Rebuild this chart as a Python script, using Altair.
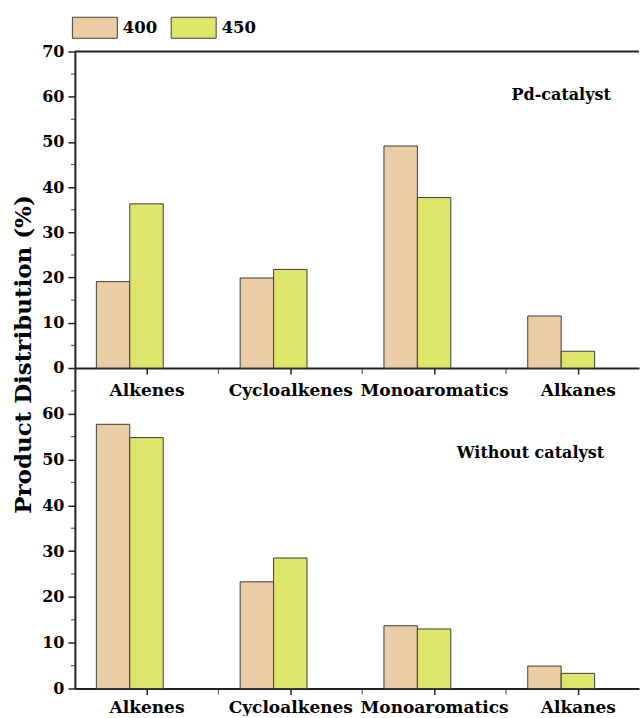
import altair as alt
import pandas as pd

# ---------------- data ----------------
categories = ["Alkenes", "Cycloalkenes", "Monoaromatics", "Alkanes"]
temps = ["400", "450"]
pd_400 = [19.1, 19.9, 49.1, 11.5]
pd_450 = [36.3, 21.8, 37.7, 3.7]
nocat_400 = [57.7, 23.3, 13.7, 4.9]
nocat_450 = [54.8, 28.5, 13.0, 3.3]

top_major = [0, 10, 20, 30, 40, 50, 60, 70]
bottom_major = [0, 10, 20, 30, 40, 50, 60]
minor_y = [5, 15, 25, 35, 45, 55, 65]
minor_x_cats = ["Cycloalkenes", "Monoaromatics", "Alkanes"]

panel_names = ["Pd-catalyst", "Without catalyst"]
panel_name_y = [60.3, 51.5]

colors = ["#EBCDA5", "#DDE66B"]
FONT = "DejaVu Serif"
DARK = "#222222"
W = 565


def long_df(v400, v450):
    rows = []
    for c, a, b in zip(categories, v400, v450):
        rows.append({"category": c, "temp": "400", "value": a})
        rows.append({"category": c, "temp": "450", "value": b})
    return pd.DataFrame(rows)


def panel(df, name, name_y, name_band, height, yvals, show_title, show_legend, xlabel_pad):
    xscale = alt.Scale(domain=categories, paddingInner=0.535, paddingOuter=0.229, align=0.326)
    yscale = alt.Scale(domain=[0, 70], nice=False, zero=True)

    yaxis_kw = dict(
        values=yvals, tickSize=7, tickWidth=1.5, tickColor=DARK,
        domainWidth=2, domainColor=DARK, labelPadding=4,
        labelFont=FONT, labelFontSize=16, labelFontWeight="bold", labelColor="black",
        grid=False,
    )
    if show_title:
        yaxis_kw.update(
            title="Product Distribution (%)", titleX=-51, titleY=303,
            titleAngle=270, titleAlign="center", titleBaseline="middle",
            titleFont=FONT, titleFontSize=23, titleFontWeight="bold", titleColor="black",
        )
    else:
        yaxis_kw.update(title=None)
    yaxis = alt.Axis(**yaxis_kw)
    xaxis = alt.Axis(title=None, labelAngle=0, tickOffset=16.75,
                     tickSize=6, tickWidth=1.5, tickColor=DARK,
                     domainWidth=2, domainColor=DARK, labelPadding=xlabel_pad,
                     labelFont=FONT, labelFontSize=17, labelFontWeight="bold",
                     labelColor="black", grid=False)

    if show_legend:
        legend = alt.Legend(
            orient="none", legendX=-3, legendY=-47, direction="horizontal", title=None,
            symbolType="M-1,-0.4667H1V0.4667H-1Z", symbolSize=2025,
            symbolStrokeColor="#3c3c3c", symbolStrokeWidth=1, symbolOpacity=1,
            labelFont=FONT, labelFontSize=16.5, labelFontWeight="bold", labelColor="black",
            labelOffset=5, columnPadding=11,
        )
    else:
        legend = None

    bars = alt.Chart(df).mark_bar(stroke="#3c3c3c", strokeWidth=1, opacity=1).encode(
        x=alt.X("category:N", scale=xscale, sort=categories, axis=xaxis),
        xOffset=alt.XOffset("temp:N", sort=temps,
                            scale=alt.Scale(paddingInner=0, paddingOuter=0)),
        y=alt.Y("value:Q", scale=yscale, axis=yaxis),
        color=alt.Color("temp:N", scale=alt.Scale(domain=temps, range=colors), legend=legend),
    )

    ymin = alt.Chart(pd.DataFrame({"value": minor_y})).mark_tick(
        orient="horizontal", size=4, thickness=1.2, color=DARK, xOffset=-2
    ).encode(y=alt.Y("value:Q", scale=yscale, axis=yaxis), x=alt.value(0))

    xmin = alt.Chart(pd.DataFrame({"category": minor_x_cats})).mark_tick(
        orient="vertical", size=5, thickness=1.2, color=DARK, yOffset=3.5, xOffset=-21.75
    ).encode(x=alt.X("category:N", scale=xscale, sort=categories, bandPosition=0, axis=xaxis),
             y=alt.datum(0))

    label = alt.Chart(pd.DataFrame({"category": ["Alkanes"], "value": [name_y], "label": [name]})).mark_text(
        font=FONT, fontSize=16, fontWeight="bold", align="center", baseline="middle", color="black"
    ).encode(x=alt.X("category:N", scale=xscale, sort=categories, bandPosition=name_band, axis=xaxis),
             y=alt.Y("value:Q", scale=yscale, axis=yaxis), text="label:N")

    layers = [bars, ymin, xmin, label]
    if show_legend:
        border = alt.Chart(pd.DataFrame({"value": [70]})).mark_rule(strokeWidth=2, color=DARK).encode(
            y=alt.Y("value:Q", scale=yscale, axis=yaxis))
        layers.append(border)
    return alt.layer(*layers).properties(width=W, height=height)


top = panel(long_df(pd_400, pd_450), panel_names[0], panel_name_y[0], 0.5, 317, top_major, True, True, 9)
bottom = panel(long_df(nocat_400, nocat_450), panel_names[1], panel_name_y[1], 0.04, 321, bottom_major, False, False, 5)

chart = alt.vconcat(top, bottom, spacing=0, bounds="flush").properties(
    padding={"left": 13, "top": 4, "right": 0, "bottom": 0}
).configure_view(stroke=None)

chart.save("out.html", embed_options={"renderer": "svg", "actions": False})
